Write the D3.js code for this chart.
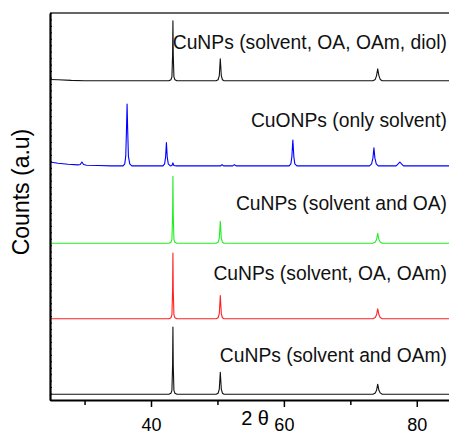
<!DOCTYPE html>
<html>
<head>
<meta charset="utf-8">
<script src="https://cdn.jsdelivr.net/npm/d3@7"></script>
<style>
body { margin: 0; background: #fff; }
svg { display: block; font-family: "Liberation Sans", Arial, sans-serif; }
</style>
</head>
<body>
<div id="graph"></div>
<script>
// XRD patterns, [2theta, counts above baseline]
var sampleNames = ["CuNPs (solvent, OA, OAm, diol)", "CuONPs (only solvent)", "CuNPs (solvent and OA)", "CuNPs (solvent, OA, OAm)", "CuNPs (solvent and OAm)"];
var sampleColors = ["#111111", "#0000ff", "#22ee22", "#ff2222", "#111111"];
var sampleOffsets = [495, 363, 243, 126, 9];

var diolPattern = [[24.8,2],[26,1.5],[28,0.5],[30,0],[42.7,0],[43.0,1.5],[43.15,6],[43.25,40],[43.3,93],[43.35,40],[43.45,6],[43.6,1.5],[43.9,0],
    [49.8,0],[50.1,1.5],[50.28,8],[50.43,34],[50.58,8],[50.75,1.5],[51.0,0],
    [73.4,0],[73.75,2],[73.95,8],[74.12,18.6],[74.3,8],[74.5,2],[74.8,0],[85,0]];
var solventPattern = [[24.8,6],[26,4],[27.5,2.5],[29.0,1.5],[29.35,2],[29.6,6],[29.85,2],[30.3,1],[32,0.5],[34,0],[35.8,0],[36.05,3],[36.2,15],[36.32,60],[36.4,96],[36.48,60],[36.6,15],[36.8,3],[37.1,0],
    [41.8,0],[42.05,3],[42.2,14],[42.32,36],[42.44,14],[42.6,3],[42.9,0],[43.15,0.5],[43.3,4.6],[43.45,0.5],[43.8,0],
    [50.5,0],[50.7,2],[50.9,0],[52.3,0],[52.55,2],[52.8,0],
    [60.8,0],[61.05,3],[61.2,14],[61.35,40],[61.5,14],[61.65,3],[61.95,0],
    [72.9,0],[73.2,3],[73.4,12],[73.55,28],[73.7,12],[73.9,3],[74.2,0],
    [76.9,0],[77.2,3],[77.45,6],[77.7,3],[78.0,0],[85,0]];
var oaPattern = [[24.8,0],[42.7,0],[43.0,1.5],[43.15,6],[43.25,45],[43.3,104],[43.35,45],[43.45,6],[43.6,1.5],[43.9,0],
    [49.8,0],[50.1,1.5],[50.28,8],[50.43,34],[50.58,8],[50.75,1.5],[51.0,0],
    [73.4,0],[73.75,2],[73.95,6],[74.12,15.5],[74.3,6],[74.5,2],[74.8,0],[85,0]];
var oaOamPattern = [[24.8,0],[42.7,0],[43.0,1.5],[43.15,6],[43.25,44],[43.3,102],[43.35,44],[43.45,6],[43.6,1.5],[43.9,0],
    [49.8,0],[50.1,1.5],[50.28,8],[50.43,36],[50.58,8],[50.75,1.5],[51.0,0],
    [73.4,0],[73.75,2],[73.95,6],[74.12,15.5],[74.3,6],[74.5,2],[74.8,0],[85,0]];
var oamPattern = [[24.8,0],[42.7,0],[43.0,1.5],[43.15,6],[43.25,45],[43.3,104],[43.35,45],[43.45,6],[43.6,1.5],[43.9,0],
    [49.8,0],[50.1,1.5],[50.28,8],[50.43,34],[50.58,8],[50.75,1.5],[51.0,0],
    [73.4,0],[73.75,2],[73.95,6],[74.12,15.5],[74.3,6],[74.5,2],[74.8,0],[85,0]];
var patterns = [diolPattern, solventPattern, oaPattern, oaOamPattern, oamPattern];

var majorTicks = [40, 60, 80];
var minorTicks = [30, 50, 70];

var svgWidth = 449;
var svgHeight = 434;

var plotLeft = 50, plotRight = 450, plotTop = 13, plotBottom = 400;

var $svg = d3.select("#graph")
    .append("svg")
    .attr("width", svgWidth)
    .attr("height", svgHeight);

var x = d3.scaleLinear().domain([24.8, 85]).range([plotLeft, plotRight]);
var y = d3.scaleLinear().domain([0, 600]).range([plotBottom, plotTop]);

var line = d3.line()
    .x(d=>x(d[0]))
    .y(d=>y(d[1]));

patterns.forEach((p,i)=>{
    var shifted = p.map(d=>[d[0], d[1] + sampleOffsets[i]]);
    $svg.append("path")
        .attr("d", line(shifted))
        .attr("fill", "none")
        .attr("stroke", sampleColors[i])
        .attr("stroke-width", 1.1)
        .attr("stroke-linejoin", "round");
});

// frame
$svg.append("line")
    .attr("x1", plotLeft).attr("x2", plotRight)
    .attr("y1", plotTop).attr("y2", plotTop)
    .attr("stroke", "#333").attr("stroke-width", 1.5);

var $left = $svg.append("g")
    .attr("transform", `translate(${plotLeft},0)`)
    .call(d3.axisRight(y).tickValues(d3.range(0, 601, 10)).tickSize(2).tickSizeOuter(0).tickFormat(""));
$left.select(".domain").attr("stroke-width", 2.2);
$left.selectAll(".tick line").attr("stroke-width", 1);

var $bottomMinor = $svg.append("g")
    .attr("transform", `translate(0,${plotBottom})`)
    .call(d3.axisBottom(x).tickValues(minorTicks).tickSize(5).tickSizeOuter(0).tickFormat(""));
$bottomMinor.select(".domain").remove();
$bottomMinor.selectAll(".tick line").attr("stroke-width", 1.5);

var $bottom = $svg.append("g")
    .attr("transform", `translate(0,${plotBottom})`)
    .call(d3.axisBottom(x).tickValues(majorTicks).tickSize(7).tickSizeOuter(0).tickPadding(11));
$bottom.select(".domain").attr("stroke-width", 2.2);
$bottom.selectAll(".tick line").attr("stroke-width", 1.5);
$bottom.selectAll(".tick text")
    .attr("font-family", "Liberation Sans, Arial, sans-serif")
    .attr("font-size", 18)
    .attr("fill", "#000");

// sample labels, right aligned
var labelBaselines = [49, 127, 210, 280, 362];
sampleNames.forEach((name,i)=>{
    $svg.append("text")
        .attr("x", 447)
        .attr("y", labelBaselines[i])
        .attr("text-anchor", "end")
        .attr("font-size", 19.3)
        .attr("fill", "#111")
        .text(name);
});

$svg.append("text")
    .attr("x", 269)
    .attr("y", 425)
    .attr("text-anchor", "end")
    .attr("font-size", 20)
    .attr("fill", "#000")
    .text("2 θ");

$svg.append("text")
    .attr("transform", "translate(29,192) rotate(-90)")
    .attr("text-anchor", "middle")
    .attr("font-size", 23)
    .attr("fill", "#000")
    .text("Counts (a.u)");
</script>
</body>
</html>
